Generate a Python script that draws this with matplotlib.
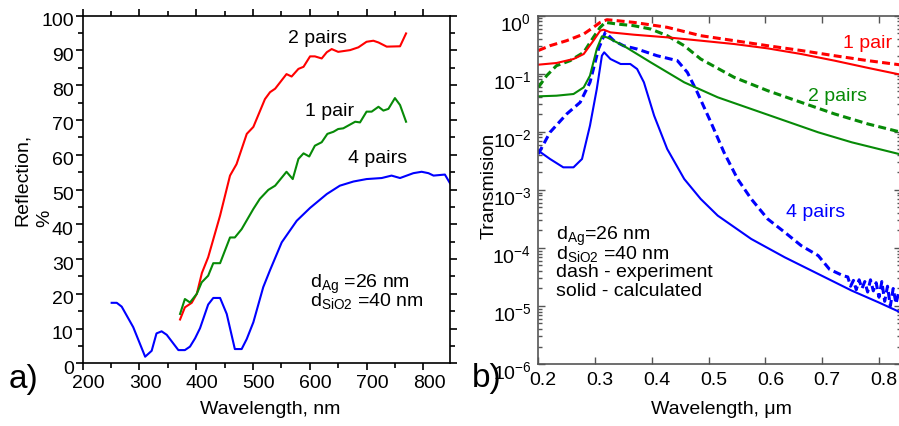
import numpy as np
import matplotlib
matplotlib.use('Agg')
import matplotlib.pyplot as plt
from matplotlib.transforms import ScaledTranslation
from matplotlib.ticker import MultipleLocator, LogLocator, FixedLocator, NullFormatter, FormatStrFormatter

plt.rcParams['font.family'] = ['Liberation Sans', 'DejaVu Sans']
plt.rcParams['mathtext.fontset'] = 'custom'
plt.rcParams['mathtext.rm'] = 'Liberation Sans'
plt.rcParams['mathtext.it'] = 'Liberation Sans:italic'
plt.rcParams['mathtext.bf'] = 'Liberation Sans:bold'
plt.rcParams['mathtext.default'] = 'regular'
plt.rcParams['font.size'] = 14

# ---------------- Panel a) reflection ----------------
r2_wl = [371.5, 380, 392, 401, 410, 421, 442, 459.5, 471, 489, 500.6, 521, 530, 539, 559, 568,
         580, 589, 600.5, 609, 621, 630, 638.6, 650, 671, 685.6, 700, 712, 721, 735.5, 759, 769.6]
r2_val = [12.6, 16.1, 17.4, 20, 26, 30.5, 42.5, 54, 57.3, 66, 68, 76, 78, 79, 83.2, 82.5,
          84.7, 85.3, 88.3, 88.3, 87.7, 89.5, 90.4, 89.6, 90.1, 90.9, 92.5, 92.8, 92.3, 91.1, 91.2, 94.9]

r1_wl = [371.5, 380, 389, 401, 409.6, 421, 430, 442, 459.5, 468, 480, 500.6, 512, 527, 539, 559,
         570, 580, 589, 599, 609, 621, 631, 641.6, 650, 659, 680, 688.5, 700, 709, 721, 729.7,
         738.5, 750, 759, 769.6]
r1_val = [14.2, 18.5, 17.5, 20, 23.3, 25.2, 28.8, 28.8, 36.2, 36.2, 38.6, 44.4, 47.3, 49.9, 51.1, 55.1,
          53, 58.8, 60.4, 59.5, 62.6, 63.6, 66, 66.6, 67.4, 67.6, 69.5, 69.3, 72.4, 72.4, 73.8, 72.7,
          73.2, 76.3, 74.3, 69.5]

r4_wl = [251, 260, 268.7, 289, 310, 321.5, 330, 339, 348, 368.5, 380, 389, 398, 406.7, 421, 430,
         442, 453.7, 468, 480, 489, 500.6, 518, 530, 550.6, 577, 600.5, 630, 653, 677, 700, 726.7,
         744, 759, 782.5, 797, 809, 818, 838, 847]
r4_val = [17.4, 17.4, 16.3, 10.4, 1.9, 3.6, 8.6, 9.2, 8.2, 3.8, 3.8, 4.8, 7.2, 10.1, 16.9, 18.8,
          18.8, 14.2, 4.1, 4.1, 7, 11.8, 21.9, 26.8, 34.8, 41, 44.7, 48.7, 51.1, 52.3, 53, 53.3,
          54, 53.3, 54.7, 55.1, 54.7, 54, 54.3, 51.8]

a_xticks = [200, 300, 400, 500, 600, 700, 800]
a_yticks = [0, 10, 20, 30, 40, 50, 60, 70, 80, 90, 100]

# ---------------- Panel b) transmission (log10 values) ----------------
t1_exp_x = [0.2, 0.2206, 0.25, 0.28, 0.297, 0.309, 0.321, 0.339, 0.368, 0.427, 0.486, 0.545,
            0.604, 0.663, 0.722, 0.781, 0.84]
t1_exp_lg = [-0.60, -0.517, -0.43, -0.316, -0.2, -0.115, -0.069, -0.086, -0.115, -0.2, -0.344, -0.43,
             -0.517, -0.6, -0.69, -0.775, -0.85]

t1_calc_x = [0.2, 0.232, 0.262, 0.28, 0.297, 0.309, 0.315, 0.327, 0.368, 0.427, 0.486, 0.545,
             0.604, 0.663, 0.722, 0.781, 0.84]
t1_calc_lg = [-0.844, -0.815, -0.746, -0.66, -0.43, -0.258, -0.241, -0.287, -0.327, -0.373, -0.43, -0.488,
              -0.563, -0.66, -0.775, -0.9, -1.02]

t2_exp_x = [0.2, 0.2147, 0.232, 0.256, 0.28, 0.297, 0.309, 0.318, 0.339, 0.368, 0.398, 0.427,
            0.457, 0.486, 0.545, 0.604, 0.663, 0.722, 0.781, 0.84]
t2_exp_lg = [-1.234, -1.033, -0.861, -0.775, -0.631, -0.373, -0.2, -0.115, -0.144, -0.172, -0.23, -0.344,
             -0.517, -0.746, -1.062, -1.292, -1.493, -1.693, -1.866, -2.01]

t2_calc_x = [0.2, 0.232, 0.262, 0.28, 0.291, 0.303, 0.312, 0.321, 0.35, 0.398, 0.457, 0.516,
             0.575, 0.634, 0.693, 0.752, 0.84]
t2_calc_lg = [-1.389, -1.378, -1.349, -1.234, -1.033, -0.574, -0.356, -0.373, -0.517, -0.804, -1.148, -1.406,
              -1.607, -1.808, -2.009, -2.181, -2.394]

t4_exp_x = [0.2, 0.2206, 0.25, 0.2737, 0.291, 0.306, 0.318, 0.333, 0.35, 0.374, 0.409, 0.445,
            0.4625, 0.48, 0.504, 0.527, 0.551, 0.575, 0.604, 0.634, 0.663, 0.693, 0.713, 0.737,
            0.745, 0.75, 0.755, 0.76, 0.765, 0.77, 0.775, 0.78, 0.785, 0.79, 0.795, 0.80, 0.805,
            0.81, 0.815, 0.82, 0.825, 0.83, 0.835]
t4_exp_lg = [-2.382, -2.009, -1.693, -1.493, -1.148, -0.574, -0.287, -0.43, -0.517, -0.574, -0.689, -0.775,
             -0.976, -1.32, -1.837, -2.354, -2.813, -3.157, -3.502, -3.731, -3.961, -4.133, -4.37, -4.48,
             -4.50, -4.66, -4.56, -4.72, -4.55, -4.70, -4.58, -4.76, -4.55, -4.74, -4.60, -4.85, -4.58,
             -4.92, -4.66, -5.00, -4.70, -4.96, -4.75]

t4_calc_x = [0.2, 0.2206, 0.244, 0.262, 0.277, 0.291, 0.303, 0.312, 0.316, 0.327, 0.345, 0.362,
             0.374, 0.386, 0.404, 0.427, 0.457, 0.486, 0.516, 0.575, 0.634, 0.693, 0.752, 0.799, 0.84]
t4_calc_lg = [-2.325, -2.468, -2.612, -2.612, -2.468, -1.894, -1.263, -0.689, -0.631, -0.746, -0.832, -0.832,
              -0.918, -1.148, -1.722, -2.296, -2.813, -3.157, -3.444, -3.846, -4.162, -4.449, -4.736, -4.937, -5.12]

b_xticks = [0.2, 0.3, 0.4, 0.5, 0.6, 0.7, 0.8]

RED = '#ff0000'
GREEN = '#078a07'
BLUE = '#0000ff'

W, H = 899, 427
fig = plt.figure(figsize=(W / 100, H / 100), dpi=100)

# ---------- left axes ----------
axL = fig.add_axes([82.7 / W, (H - 364.3) / H, (450 - 82.7) / W, (364.3 - 16.7) / H])
axL.plot(r2_wl, r2_val, color=RED, lw=1.5)
axL.plot(r1_wl, r1_val, color=GREEN, lw=1.5)
axL.plot(r4_wl, r4_val, color=BLUE, lw=1.5)
axL.set_xlim(200, 847)
axL.set_ylim(0, 100)
axL.xaxis.set_major_locator(FixedLocator(a_xticks))
axL.xaxis.set_minor_locator(MultipleLocator(50))
axL.yaxis.set_major_locator(FixedLocator(a_yticks))
axL.yaxis.set_minor_locator(MultipleLocator(5))
axL.tick_params(which='both', direction='out', top=True, right=True, labelsize=14, width=1.2)
axL.tick_params(which='major', length=5, pad=3)
axL.tick_params(which='minor', length=3.5)
axL.tick_params(axis='y', which='major', pad=1.5)
for sp in axL.spines.values():
    sp.set_linewidth(1.2)

axL.text(562, 92.3, '2 pairs', fontsize=14, va='baseline')
axL.text(591.5, 71.4, '1 pair', fontsize=14, va='baseline')
axL.text(667.8, 58.0, '4 pairs', fontsize=14, va='baseline')
axL.text(600, 21.9, r'd$_{\mathrm{Ag}}$ =26 nm', fontsize=14, va='baseline')
axL.text(600, 16.8, r'd$_{\mathrm{SiO2}}$ =40 nm', fontsize=14, va='baseline')

# ---------- right axes ----------
axR = fig.add_axes([538.3 / W, (H - 365) / H, (W - 538.3) / W + 0.002, (365 - 16.7) / H])
axR.plot(t1_exp_x, 10 ** np.array(t1_exp_lg), color=RED, lw=2.2, ls=(0, (2.6, 1.4)))
axR.plot(t2_exp_x, 10 ** np.array(t2_exp_lg), color=GREEN, lw=2.2, ls=(0, (2.6, 1.4)))
axR.plot(t4_exp_x, 10 ** np.array(t4_exp_lg), color=BLUE, lw=2.2, ls=(0, (2.6, 1.4)))
axR.plot(t1_calc_x, 10 ** np.array(t1_calc_lg), color=RED, lw=1.5)
axR.plot(t2_calc_x, 10 ** np.array(t2_calc_lg), color=GREEN, lw=1.5)
axR.plot(t4_calc_x, 10 ** np.array(t4_calc_lg), color=BLUE, lw=1.5)
axR.set_yscale('log')
axR.set_ylim(1e-6, 1)
axR.set_xlim(0.2, 0.2 + (W - 538.3) / 565.0)
axR.xaxis.set_major_locator(FixedLocator(b_xticks))
axR.xaxis.set_major_formatter(FormatStrFormatter('%.1f'))
axR.yaxis.set_major_locator(LogLocator(base=10, numticks=10))
axR.yaxis.set_minor_locator(LogLocator(base=10, subs=np.arange(2, 10), numticks=20))
axR.yaxis.set_minor_formatter(NullFormatter())
axR.tick_params(which='both', direction='in', top=True, right=True, labelsize=14,
                color='#555555', width=1.0)
axR.tick_params(which='major', length=5, pad=5)
axR.tick_params(which='minor', length=3)
for sp in axR.spines.values():
    sp.set_color('#555555')
    sp.set_linewidth(1.2)

axR.text(0.737, 10 ** -0.545, '1 pair', color=RED, fontsize=14, va='baseline')
axR.text(0.675, 10 ** -1.448, '2 pairs', color=GREEN, fontsize=14, va='baseline')
axR.text(0.6367, 10 ** -3.459, '4 pairs', color=BLUE, fontsize=14, va='baseline')
axR.text(0.2313, 10 ** -3.85, r'd$_{\mathrm{Ag}}$=26 nm', fontsize=14, va='baseline')
axR.text(0.2313, 10 ** -4.18, r'd$_{\mathrm{SiO2}}$ =40 nm', fontsize=14, va='baseline')
axR.text(0.2313, 10 ** -4.49, 'dash - experiment', fontsize=14, va='baseline')
axR.text(0.2313, 10 ** -4.81, 'solid - calculated', fontsize=14, va='baseline')

# ---------- figure texts ----------
def fx(px):
    return px / W

def fy(py):
    return (H - py) / H

fig.text(fx(22), fy(180), 'Reflection,', rotation=90, ha='center', va='center', fontsize=14)
fig.text(fx(45), fy(218), '%', rotation=90, ha='center', va='center', fontsize=14)
fig.text(fx(270), fy(410), 'Wavelength, nm', ha='center', va='center', fontsize=14)
fig.text(fx(489), fy(186), 'Transmision', rotation=90, ha='center', va='center', fontsize=14)
fig.text(fx(721), fy(410), 'Wavelength, \u03bcm', ha='center', va='center', fontsize=14)
fig.text(fx(23), fy(380), 'a)', ha='center', va='center', fontsize=24)
fig.text(fx(487), fy(379), 'b)', ha='center', va='center', fontsize=24)

# shift tick labels slightly like the original
fig.canvas.draw()
for lab in axL.get_xticklabels():
    lab.set_transform(lab.get_transform() + ScaledTranslation(6 / 100, 0, fig.dpi_scale_trans))
for lab in axL.get_yticklabels():
    lab.set_transform(lab.get_transform() + ScaledTranslation(0, -3 / 100, fig.dpi_scale_trans))
for lab in axR.get_xticklabels():
    lab.set_transform(lab.get_transform() + ScaledTranslation(5 / 100, 0, fig.dpi_scale_trans))
for lab in axR.get_yticklabels():
    lab.set_transform(lab.get_transform() + ScaledTranslation(0, -5 / 100, fig.dpi_scale_trans))

fig.savefig('out.png', dpi=100)
